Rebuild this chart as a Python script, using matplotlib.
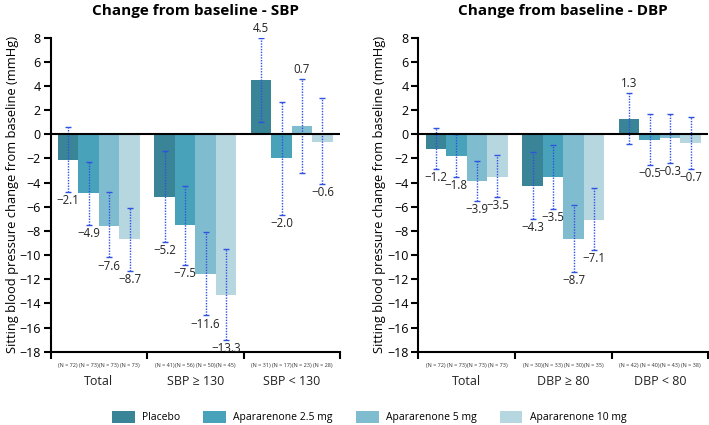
import matplotlib
matplotlib.use('Agg')
import matplotlib.pyplot as plt
from matplotlib.patches import Patch
import numpy as np

plt.rcParams['font.family'] = ['Open Sans', 'DejaVu Sans']

treatments = ['Placebo', 'Apararenone 2.5 mg', 'Apararenone 5 mg', 'Apararenone 10 mg']
colors = ['#3A8497', '#48A3BA', '#80BCD0', '#B6D6E0']

# SBP
sbp_groups = ['Total', 'SBP \u2265 130', 'SBP < 130']
sbp_mean = [[-2.1, -4.9, -7.6, -8.7],
            [-5.2, -7.5, -11.6, -13.3],
            [4.5, -2.0, 0.7, -0.6]]
sbp_lo = [[-4.8, -7.5, -10.2, -11.3],
          [-8.9, -10.8, -15.0, -17.0],
          [1.0, -6.7, -3.2, -4.1]]
sbp_hi = [[0.6, -2.3, -4.8, -6.1],
          [-1.4, -4.3, -8.1, -9.5],
          [8.0, 2.7, 4.6, 3.0]]
sbp_n = [[72, 73, 73, 73], [41, 56, 50, 45], [31, 17, 23, 28]]

# DBP
dbp_groups = ['Total', 'DBP \u2265 80', 'DBP < 80']
dbp_mean = [[-1.2, -1.8, -3.9, -3.5],
            [-4.3, -3.5, -8.7, -7.1],
            [1.3, -0.5, -0.3, -0.7]]
dbp_lo = [[-2.9, -3.5, -5.5, -5.2],
          [-7.0, -6.2, -11.4, -9.6],
          [-0.8, -2.55, -2.4, -2.85]]
dbp_hi = [[0.5, 0.0, -2.2, -1.75],
          [-1.45, -0.86, -5.85, -4.45],
          [3.45, 1.7, 1.7, 1.45]]
dbp_n = [[72, 73, 73, 73], [30, 33, 30, 35], [42, 40, 43, 38]]

fig = plt.figure(figsize=(7.09, 4.25), dpi=100)
ax1 = fig.add_axes([0.0715, 0.1725, 0.408, 0.7388])
ax2 = fig.add_axes([0.590, 0.1725, 0.409, 0.7388])

bw = 0.212


def draw_panel(ax, title, groups, mean, lo, hi, ns):
    mean = np.array(mean)
    lo = np.array(lo)
    hi = np.array(hi)
    for i in range(4):
        x = np.arange(3) + 0.5 + (i - 1.5) * bw
        ax.bar(x, mean[:, i], width=bw, color=colors[i], edgecolor='none', zorder=2)
        eb = ax.errorbar(x, mean[:, i], yerr=[mean[:, i] - lo[:, i], hi[:, i] - mean[:, i]],
                         fmt='none', ecolor='#2F52E0', elinewidth=1.0, capsize=2.5,
                         capthick=1.0, zorder=3)
        eb[2][0].set_linestyle((0, (1, 1)))
        for g in range(3):
            m = mean[g, i]
            s = '%.1f' % m
            s = s.replace('-', '\u2212')
            if m >= 0:
                ax.annotate(s, (x[g], hi[g, i]), xytext=(0, 2), textcoords='offset points',
                            ha='center', va='bottom', fontsize=8.3, color='#222222',
                            annotation_clip=False)
            else:
                ax.annotate(s, (x[g], lo[g, i]), xytext=(0, -1.5), textcoords='offset points',
                            ha='center', va='top', fontsize=8.3, color='#222222',
                            annotation_clip=False)
            ax.text(x[g], -0.045, '(N = %d)' % ns[g][i], transform=ax.get_xaxis_transform(),
                    ha='center', va='center', fontsize=4.0, color='#333333')
    for g in range(3):
        ax.text(g + 0.5, -0.095, groups[g], transform=ax.get_xaxis_transform(),
                ha='center', va='center', fontsize=9, color='#222222')

    ax.axhline(0, color='black', lw=1.5, zorder=4)
    ax.set_xlim(0, 3)
    ax.set_ylim(-18, 8)
    ax.set_yticks(np.arange(-18, 9, 2))
    ax.set_xticks([0, 1, 2, 3])
    ax.set_xticklabels([])
    ax.tick_params(axis='y', direction='out', length=5, width=1.5, labelsize=9, pad=2)
    ax.tick_params(axis='x', direction='out', length=5, width=1.5)
    for sp in ['top', 'right']:
        ax.spines[sp].set_visible(False)
    for sp in ['left', 'bottom']:
        ax.spines[sp].set_linewidth(1.5)
    ax.set_ylabel('Sitting blood pressure change from baseline (mmHg)', fontsize=9.3)
    ax.yaxis.set_label_coords(-0.11, 0.5)
    ax.set_title(title, fontsize=11, fontweight='bold', pad=16)


draw_panel(ax1, 'Change from baseline - SBP', sbp_groups, sbp_mean, sbp_lo, sbp_hi, sbp_n)
draw_panel(ax2, 'Change from baseline - DBP', dbp_groups, dbp_mean, dbp_lo, dbp_hi, dbp_n)

handles = [Patch(facecolor=c, edgecolor='none') for c in colors]
fig.legend(handles, treatments, loc='center', bbox_to_anchor=(369 / 709, 1 - 417 / 425),
           ncol=4, frameon=False, fontsize=7.5, handlelength=2.2, handleheight=1.4,
           columnspacing=2.2, handletextpad=0.7)

fig.savefig('out.png', dpi=100, facecolor='white')
